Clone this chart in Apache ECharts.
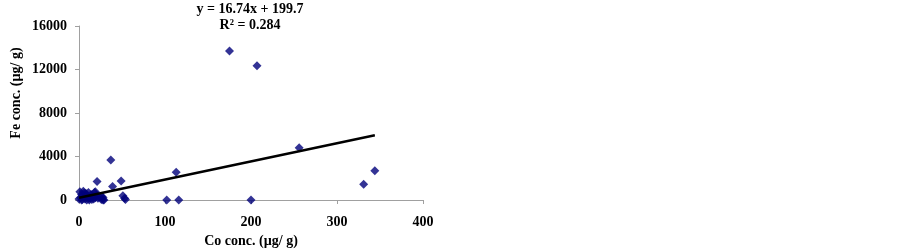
<!DOCTYPE html>
<html><head><meta charset="utf-8">
<script src="https://cdn.jsdelivr.net/npm/echarts@6/dist/echarts.min.js"></script>
<style>html,body{margin:0;padding:0;background:#fff}#c{width:903px;height:250px}</style>
</head><body><div id="c"></div>
<script>
const coValues = [0,1,2,3,3,4,5,6,6,7,8,9,10,11,12,12,13,14,15,16,17,18,19,20,22,24,26,28,29,19,21,27,28,37,39,49,51,53,54,102,113,116,175,200,207,256,331,344];
const feValues = [100,750,200,500,0,50,800,300,650,100,600,0,400,700,150,0,250,500,50,350,100,700,750,450,150,300,50,200,0,200,1700,300,0,3680,1250,1750,400,150,50,0,2550,0,13700,0,12350,4800,1450,2700];
const trendSlope = 16.74, trendIntercept = 199.7;
const trendX = [0, 344];
const xTicks = [0,100,200,300,400];
const yTicks = [0,4000,8000,12000,16000];
const equationText = 'y = 16.74x + 199.7';
const r2Text = 'R² = 0.284';
const xName = 'Co conc. (µg/ g)';
const yName = 'Fe conc. (µg/ g)';

const points = coValues.map((x,i)=>[x, feValues[i]]);
const trend = trendX.map(x=>[x, trendSlope*x + trendIntercept]);
const font = '"Liberation Serif","Times New Roman",serif';
const chart = echarts.init(document.getElementById('c'));
chart.setOption({
  animation:false,
  grid:{left:79,right:480,top:26,bottom:50,containLabel:false,outerBoundsMode:'none'},
  xAxis:{type:'value',min:xTicks[0],max:xTicks[xTicks.length-1],interval:100,
    name:xName,nameLocation:'middle',nameGap:33,
    nameTextStyle:{fontFamily:font,fontWeight:'bold',fontSize:14,color:'#000'},
    axisLine:{show:true,lineStyle:{color:'#a0a0a0',width:1}},
    axisTick:{show:true,length:4,lineStyle:{color:'#a0a0a0'}},
    axisLabel:{margin:15,fontFamily:font,fontWeight:'bold',fontSize:14,color:'#000',formatter:v=>String(v)},
    splitLine:{show:false}},
  yAxis:{type:'value',min:yTicks[0],max:yTicks[yTicks.length-1],interval:4000,
    axisLine:{show:true,lineStyle:{color:'#a0a0a0',width:1}},
    axisTick:{show:true,length:4,lineStyle:{color:'#a0a0a0'}},
    axisLabel:{margin:12,fontFamily:font,fontWeight:'bold',fontSize:14,color:'#000',formatter:v=>String(v)},
    splitLine:{show:false}},
  graphic:[
    {type:'text',x:16,y:93,rotation:Math.PI/2,style:{text:yName,fontFamily:font,fontWeight:'bold',fontSize:14,fill:'#000',align:'center',verticalAlign:'middle'}},
    {type:'text',style:{text:equationText,x:250,y:9,fontFamily:font,fontWeight:'bold',fontSize:14,fill:'#000',align:'center',verticalAlign:'middle'}},
    {type:'text',style:{text:r2Text,x:250,y:25,fontFamily:font,fontWeight:'bold',fontSize:14,fill:'#000',align:'center',verticalAlign:'middle'}}
  ],
  series:[
    {type:'line',data:trend,symbol:'none',lineStyle:{color:'#000',width:2.5},z:3},
    {type:'scatter',data:points,symbol:'diamond',symbolSize:9,itemStyle:{color:'#00007a'},z:2}
  ]
});
</script></body></html>
